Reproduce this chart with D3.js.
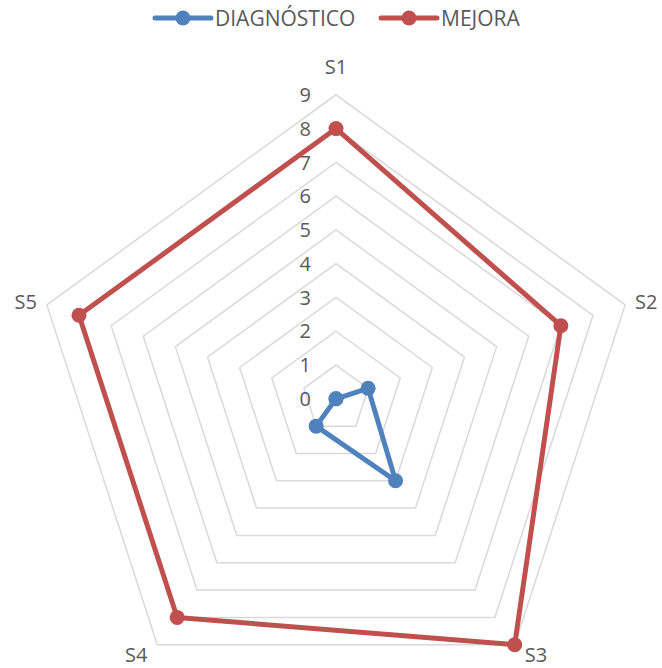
<!DOCTYPE html>
<html>
<head>
<meta charset="utf-8">
<script src="https://cdn.jsdelivr.net/npm/d3@7"></script>
<style>
  html, body { margin: 0; padding: 0; background: #fff; }
  svg { display: block; font-family: "Open Sans", "Liberation Sans", sans-serif; }
</style>
</head>
<body>
<svg id="chart" width="662" height="668"></svg>
<script>
// Radar chart: diagnóstico vs mejora over five aspects
const categories = ["S1", "S2", "S3", "S4", "S5"];
const diagnostico = [0, 1, 3, 1, 0];
const mejora = [8, 7, 9, 8, 8];
const tickValues = [0, 1, 2, 3, 4, 5, 6, 7, 8, 9];
const seriesNames = ["DIAGNÓSTICO", "MEJORA"];
const seriesColors = ["#4f81bd", "#c0504d"];

const svg = d3.select("#chart");
const cx = 336, cy = 398.8, outerR = 304;

const r = d3.scaleLinear().domain([0, 9]).range([0, outerR]);
const angle = d3.scalePoint().domain(categories).range([0, 2 * Math.PI * (categories.length - 1) / categories.length]);

const g = svg.append("g").attr("transform", `translate(${cx},${cy})`);

function pt(cat, v) {
  const a = angle(cat);
  return [Math.sin(a) * r(v), -Math.cos(a) * r(v)];
}

// grid pentagons
const gridLine = d3.line().curve(d3.curveLinearClosed);
g.append("g").selectAll("path")
  .data(tickValues.filter(t => t > 0))
  .join("path")
  .attr("d", t => gridLine(categories.map(c => pt(c, t))))
  .attr("fill", "none")
  .attr("stroke", "#d9d9d9")
  .attr("stroke-width", 1.5);

// radial value labels along the S1 axis
g.append("g").selectAll("text")
  .data(tickValues)
  .join("text")
  .attr("x", -25)
  .attr("y", t => -r(t))
  .attr("dy", "0.36em")
  .attr("text-anchor", "end")
  .attr("fill", "#595959")
  .attr("font-size", 20)
  .text(t => t);

// category labels
g.append("g").selectAll("text")
  .data(categories)
  .join("text")
  .each(function (c) {
    const a = angle(c);
    const [vx, vy] = pt(c, 9);
    const s = Math.sin(a), co = Math.cos(a);
    const t = d3.select(this);
    if (Math.abs(s) < 0.1) {
      t.attr("x", vx).attr("y", vy - 28).attr("text-anchor", "middle");
    } else {
      t.attr("x", vx + (s > 0 ? 10 : -10))
       .attr("y", vy + (co < 0 ? 10 : -3))
       .attr("text-anchor", s > 0 ? "start" : "end");
    }
  })
  .attr("dy", "0.36em")
  .attr("fill", "#595959")
  .attr("font-size", 20)
  .text(c => c);

// series
const series = [diagnostico, mejora];
series.forEach((vals, i) => {
  const pts = categories.map((c, j) => pt(c, vals[j]));
  g.append("path")
    .attr("d", gridLine(pts))
    .attr("fill", "none")
    .attr("stroke", seriesColors[i])
    .attr("stroke-width", 5)
    .attr("stroke-linejoin", "round");
  g.append("g").selectAll("circle")
    .data(pts)
    .join("circle")
    .attr("cx", d => d[0])
    .attr("cy", d => d[1])
    .attr("r", 7.5)
    .attr("fill", seriesColors[i]);
});

// legend
const legendX = [155, 381];
const legend = svg.append("g");
seriesNames.forEach((name, i) => {
  const lg = legend.append("g").attr("transform", `translate(${legendX[i]},18)`);
  lg.append("line").attr("x1", 0).attr("x2", 56).attr("y1", 0).attr("y2", 0)
    .attr("stroke", seriesColors[i]).attr("stroke-width", 5).attr("stroke-linecap", "round");
  lg.append("circle").attr("cx", 28).attr("cy", 0).attr("r", 7.5).attr("fill", seriesColors[i]);
  lg.append("text").attr("x", 60).attr("y", 0).attr("dy", "0.36em")
    .attr("fill", "#595959").attr("font-size", 21).text(name);
});
</script>
</body>
</html>
